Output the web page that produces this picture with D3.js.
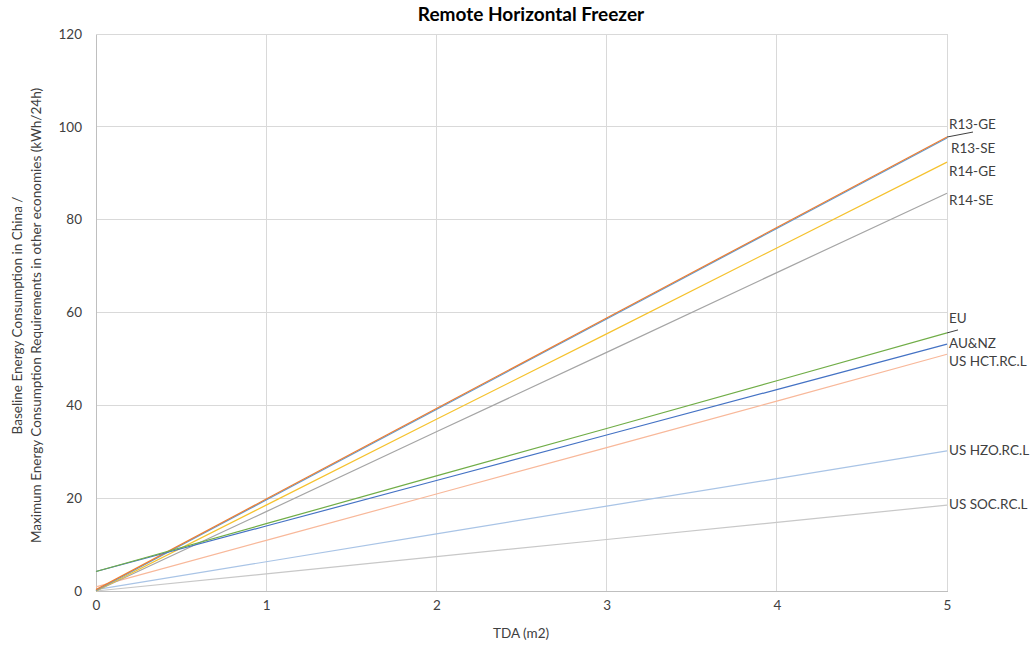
<!DOCTYPE html>
<html><head><meta charset="utf-8">
<script src="https://cdn.jsdelivr.net/npm/d3@7"></script>
<style>body{margin:0;background:#fff}text{font-family:Lato,"Open Sans",sans-serif;fill:#404040}</style>
</head><body><svg id="c" width="1033" height="648"></svg>
<script>
const xValues = [0, 1, 2, 3, 4, 5];
const xTicks = [0, 1, 2, 3, 4, 5];
const yTicks = [0, 20, 40, 60, 80, 100, 120];
const seriesNames = ["R13-GE", "R13-SE", "R14-GE", "R14-SE", "EU", "AU&NZ", "US HCT.RC.L", "US HZO.RC.L", "US SOC.RC.L"];
const r13ge = [0.3, 19.8, 39.3, 58.8, 78.3, 97.8];
const r13se = [0.1, 19.6, 39.1, 58.6, 78.1, 97.6];
const r14ge = [0, 18.5, 37.0, 55.4, 73.9, 92.4];
const r14se = [0, 17.1, 34.3, 51.4, 68.6, 85.7];
const eu = [4.2, 14.5, 24.8, 35.0, 45.3, 55.6];
const aunz = [4.2, 14.0, 23.8, 33.6, 43.4, 53.2];
const usHct = [0.9, 10.9, 20.9, 30.9, 40.9, 51.0];
const usHzo = [0.3, 6.3, 12.3, 18.3, 24.2, 30.2];
const usSoc = [0, 3.7, 7.4, 11.1, 14.8, 18.5];
const seriesValues = [r13ge, r13se, r14ge, r14se, eu, aunz, usHct, usHzo, usSoc];
const colors = ["#ED7D31", "#5B9BD5", "#F5C22E", "#A5A5A5", "#70AD47", "#4472C4", "#F8B89A", "#A9C4E6", "#C8C8C8"];
const labelY = [100.6, 95.4, 90.4, 84.1, 58.7, 53.3, 49.4, 30.3, 18.6];
const labelDx = [2, 4, 2, 2, 2, 2, 2, 2, 2];
const drawOrder = [8, 7, 6, 3, 2, 1, 0, 5, 4];

const svg = d3.select("#c");
const x = d3.scaleLinear().domain([0, 5]).range([96, 947]);
const y = d3.scaleLinear().domain([0, 120]).range([591, 34]);

svg.append("g").selectAll("line").data(yTicks.slice(1)).join("line")
  .attr("x1", x(0)).attr("x2", x(5)).attr("y1", d => y(d)).attr("y2", d => y(d))
  .attr("stroke", "#d9d9d9").attr("stroke-width", 1).attr("shape-rendering", "crispEdges");
svg.append("g").selectAll("line").data(xTicks.slice(1)).join("line")
  .attr("x1", d => x(d)).attr("x2", d => x(d)).attr("y1", y(0)).attr("y2", y(120))
  .attr("stroke", "#d9d9d9").attr("stroke-width", 1).attr("shape-rendering", "crispEdges");

const xAxis = d3.axisBottom(x).tickValues(xTicks).tickSize(0).tickPadding(9).tickFormat(d3.format("d"));
const gx = svg.append("g").attr("transform", `translate(0,${y(0)})`).call(xAxis);
gx.select(".domain").attr("stroke", "#bfbfbf").attr("shape-rendering", "crispEdges");
gx.selectAll("text").style("font-size", "13.5px").attr("fill", "#404040");
const yAxis = d3.axisLeft(y).tickValues(yTicks).tickSize(0).tickPadding(14).tickFormat(d3.format("d"));
const gy = svg.append("g").attr("transform", `translate(${x(0)},0)`).call(yAxis);
gy.select(".domain").attr("stroke", "#bfbfbf").attr("shape-rendering", "crispEdges");
gy.selectAll("text").style("font-size", "13.5px").attr("fill", "#404040");

const line = d3.line().x((d, i) => x(xValues[i])).y(d => y(d));
drawOrder.forEach(i => {
  svg.append("path").datum(seriesValues[i]).attr("d", line)
    .attr("fill", "none").attr("stroke", colors[i]).attr("stroke-width", 1.2);
});

svg.append("line").attr("x1", x(5)).attr("y1", y(r13ge[5])).attr("x2", x(5) + 26).attr("y2", y(r13ge[5]) - 5)
  .attr("stroke", "#404040").attr("stroke-width", 1);
svg.append("line").attr("x1", x(5)).attr("y1", y(eu[5])).attr("x2", x(5) + 11).attr("y2", y(eu[5]) - 3)
  .attr("stroke", "#404040").attr("stroke-width", 1);

seriesNames.forEach((n, i) => {
  svg.append("text").attr("x", x(5) + labelDx[i]).attr("y", y(labelY[i])).attr("dy", "0.35em")
    .style("font-size", "13.5px").text(n);
});

svg.append("text").attr("x", 531).attr("y", 21).attr("text-anchor", "middle")
  .style("font-size", "19px").style("font-weight", "bold").style("fill", "#000")
  .text("Remote Horizontal Freezer");
svg.append("text").attr("x", 521).attr("y", 638).attr("text-anchor", "middle")
  .style("font-size", "13.5px").text("TDA (m2)");
const yt = svg.append("text").attr("transform", `translate(22,${(y(0)+y(120))/2 + 3}) rotate(-90)`)
  .attr("text-anchor", "middle").style("font-size", "13.5px");
yt.append("tspan").attr("x", 0).attr("dy", 0).text("Baseline Energy Consumption in China /");
yt.append("tspan").attr("x", 0).attr("dy", 19).text("Maximum Energy Consumption Requirements in other economies (kWh/24h)");
</script></body></html>
